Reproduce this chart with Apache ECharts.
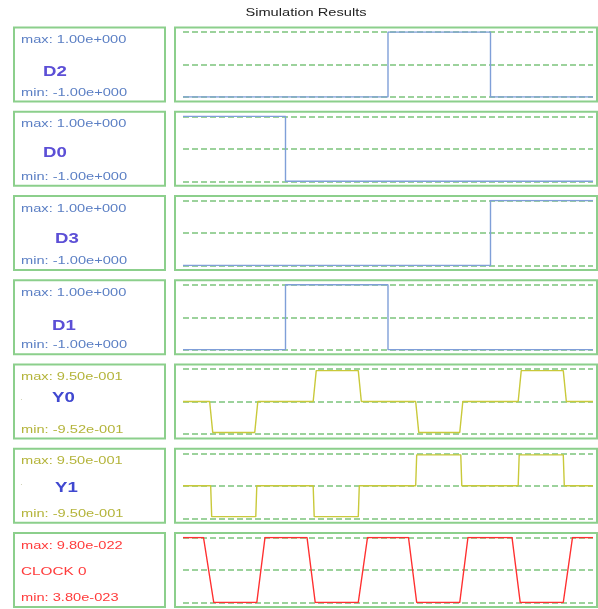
<!DOCTYPE html>
<html>
<head>
<meta charset="utf-8">
<script src="https://cdn.jsdelivr.net/npm/echarts@6/dist/echarts.min.js"></script>
<style>
html,body{margin:0;padding:0;background:#fff;}
#chart{width:598px;height:609px;}
</style>
</head>
<body>
<div id="chart"></div>
<script>
// signal names and the min/max labels shown in the left boxes
var signalNames = ['D2', 'D0', 'D3', 'D1', 'Y0', 'Y1', 'CLOCK 0'];
var maxLabels = ['max: 1.00e+000', 'max: 1.00e+000', 'max: 1.00e+000', 'max: 1.00e+000', 'max: 9.50e-001', 'max: 9.50e-001', 'max: 9.80e-022'];
var minLabels = ['min: -1.00e+000', 'min: -1.00e+000', 'min: -1.00e+000', 'min: -1.00e+000', 'min: -9.52e-001', 'min: -9.50e-001', 'min: 3.80e-023'];

// waveforms: time points and values (time axis 0..40, values normalised -1..1)
var d2Time = [0, 20, 20, 30, 30, 40];
var d2Value = [-1, -1, 1, 1, -1, -1];
var d0Time = [0, 10, 10, 40];
var d0Value = [1, 1, -1, -1];
var d3Time = [0, 30, 30, 40];
var d3Value = [-1, -1, 1, 1];
var d1Time = [0, 10, 10, 20, 20, 40];
var d1Value = [-1, -1, 1, 1, -1, -1];
var y0Time = [0, 2.6, 2.9, 7.0, 7.3, 12.7, 13.0, 17.1, 17.4, 22.7, 23.0, 27.0, 27.3, 32.7, 33.0, 37.1, 37.4, 40];
var y0Value = [0, 0, -0.952, -0.952, 0, 0, 0.95, 0.95, 0, 0, -0.952, -0.952, 0, 0, 0.95, 0.95, 0, 0];
var y1Time = [0, 2.7, 2.8, 7.1, 7.2, 12.7, 12.8, 17.1, 17.2, 22.7, 22.8, 27.1, 27.2, 32.7, 32.8, 37.1, 37.2, 40];
var y1Value = [0, 0, -0.95, -0.95, 0, 0, -0.95, -0.95, 0, 0, 0.95, 0.95, 0, 0, 0.95, 0.95, 0, 0];
var clkTime = [0, 2, 3, 7.2, 8, 12.1, 12.9, 17.1, 18, 22, 22.8, 27, 27.8, 32.1, 32.9, 37.1, 38, 40];
var clkValue = [1, 1, -1, -1, 1, 1, -1, -1, 1, 1, -1, -1, 1, 1, -1, -1, 1, 1];

var waveTimes = [d2Time, d0Time, d3Time, d1Time, y0Time, y1Time, clkTime];
var waveValues = [d2Value, d0Value, d3Value, d1Value, y0Value, y1Value, clkValue];

// colours per row
var waveColors = ['#7f9fd8', '#7f9fd8', '#7f9fd8', '#7f9fd8', '#c9c93a', '#c9c93a', '#ff3030'];
var labelColors = ['#5b7fc4', '#5b7fc4', '#5b7fc4', '#5b7fc4', '#b4b43a', '#b4b43a', '#ff3b3b'];
var nameColors = ['#5c4fd6', '#5c4fd6', '#5c4fd6', '#5c4fd6', '#4048d0', '#4048d0', '#ff3b3b'];

// layout of the left label boxes
var nameX = [43, 43, 55, 52, 52, 55, 21];
var nameDy = [44.5, 41, 43, 46, 33.5, 39, 39];
var SX = 1.33; // the lettering in the picture is stretched horizontally

var ROW0 = 27.5, PITCH = 84.25, BOXH = 74;
var boxBorder = '#8ccf8c';
var dashColor = '#7cc47c';

(function(){
var myChart = echarts.init(document.getElementById('chart'));

function txt(x, y, s, color, size, weight, align)
{
	return {
		type: 'text', x: x, y: y, scaleX: SX, silent: true,
		style: {
			text: s, fill: color,
			font: (weight || 'normal') + ' ' + size + 'px "Liberation Sans", Arial, Helvetica, sans-serif',
			align: align || 'left', verticalAlign: 'middle',
			textAlign: align || 'left', textVerticalAlign: 'middle'
		}
	};
}

var grids = [], xAxes = [], yAxes = [], series = [], graphics = [];
graphics.push(txt(306, 13, 'Simulation Results', '#222', 11, 'normal', 'center'));

for (var i = 0; i < signalNames.length; i++)
{
	var boxTop = ROW0 + i * PITCH;
	//左右两个框
	graphics.push({type: 'rect', silent: true, shape: {x: 14, y: boxTop, width: 151, height: BOXH},
		style: {fill: 'none', stroke: boxBorder, lineWidth: 2}});
	graphics.push({type: 'rect', silent: true, shape: {x: 175, y: boxTop, width: 422, height: BOXH},
		style: {fill: 'none', stroke: boxBorder, lineWidth: 2}});
	graphics.push(txt(21, boxTop + 12.5, maxLabels[i], labelColors[i], 11));
	graphics.push(txt(21, boxTop + 65, minLabels[i], labelColors[i], 11));
	var bold = i < 6 ? 'bold' : 'normal';
	graphics.push(txt(nameX[i], boxTop + nameDy[i], signalNames[i], nameColors[i], i < 6 ? 14 : 11.5, bold));
	if (i == 4 || i == 5)
	{
		graphics.push(txt(20, boxTop + (i == 4 ? 33 : 34), '.', '#c8c8a8', 8));
	}

	grids.push({left: 183, right: 5, top: boxTop + 4.5, height: 65});
	xAxes.push({type: 'value', gridIndex: i, min: 0, max: 40, show: false});
	yAxes.push({
		type: 'value', gridIndex: i, min: -1, max: 1, interval: 1,
		axisLine: {show: false}, axisTick: {show: false}, axisLabel: {show: false},
		splitLine: {show: true, lineStyle: {color: dashColor, width: 1.5, type: [6, 3]}}
	});
	var data = [];
	for (var k = 0; k < waveTimes[i].length; k++)
	{
		data.push([waveTimes[i][k], waveValues[i][k]]);
	}
	series.push({
		type: 'line', name: signalNames[i], xAxisIndex: i, yAxisIndex: i,
		data: data, showSymbol: false, symbol: 'none', silent: true,
		lineStyle: {color: waveColors[i], width: 1.4}
	});
}

myChart.setOption({
	animation: false,
	backgroundColor: '#fff',
	grid: grids,
	xAxis: xAxes,
	yAxis: yAxes,
	series: series,
	graphic: graphics
});
})();
</script>
</body>
</html>
